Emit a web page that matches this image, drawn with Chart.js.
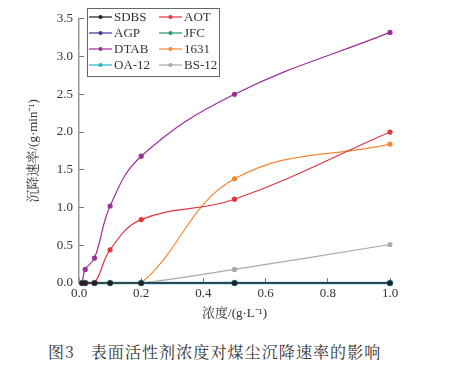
<!DOCTYPE html>
<html>
<head>
<meta charset="utf-8">
<script src="https://cdn.jsdelivr.net/npm/chart.js@4.4.0/dist/chart.umd.min.js"></script>
<style>
  html, body { margin: 0; padding: 0; background: #fff; }
  #wrap { position: relative; width: 465px; height: 373px; }
  #chartBox { position: absolute; left: 0; top: 0; width: 465px; height: 330px; }
  #caption {
    position: absolute; left: 48px; top: 340px;
    font-family: 'Noto Serif CJK SC', 'Noto Sans CJK SC', serif;
    font-size: 16px; color: #333; letter-spacing: 1.1px; white-space: nowrap;
  }
</style>
</head>
<body>
<div id="wrap">
  <div id="chartBox"><canvas id="chart"></canvas></div>
  <div id="caption">图3&nbsp;&nbsp;&nbsp;表面活性剂浓度对煤尘沉降速率的影响</div>
</div>
<script>
const concentration = [0.01, 0.02, 0.05, 0.1, 0.2, 0.5, 1.0];
const seriesNames = ['SDBS', 'AOT', 'AGP', 'JFC', 'DTAB', '1631', 'OA-12', 'BS-12'];
const seriesColors = ['#222222', '#e0353f', '#3b3a8e', '#23986a', '#9b2e98', '#f0883a', '#22b6c8', '#aaaaaa'];
const sdbs = [0, 0, 0, 0, 0, 0, 0];
const aot = [0, 0, 0, 0.44, 0.84, 1.11, 2.0];
const agp = [0, 0, 0, 0, 0, 0, 0];
const jfc = [0, 0, 0, 0, 0, 0, 0];
const dtab = [0, 0.18, 0.33, 1.02, 1.68, 2.5, 3.32];
const c1631 = [0, 0, 0, 0, 0, 1.38, 1.84];
const oa12 = [0, 0, 0, 0, 0, 0, 0];
const bs12 = [0, 0, 0, 0, 0, 0.18, 0.51];
const xTicks = [0, 0.2, 0.4, 0.6, 0.8, 1.0];
const yTicks = [0, 0.5, 1.0, 1.5, 2.0, 2.5, 3.0, 3.5];

const allValues = [sdbs, aot, agp, jfc, dtab, c1631, oa12, bs12];
const serif = "'Liberation Serif', 'Noto Serif CJK SC', 'Noto Sans CJK SC', serif";

const datasets = seriesNames.map((name, i) => ({
  label: name,
  data: concentration.map((x, j) => ({ x: x, y: allValues[i][j] })),
  borderColor: seriesColors[i],
  backgroundColor: seriesColors[i],
  borderWidth: name === 'OA-12' ? 2.6 : 1.2,
  order: name === 'OA-12' ? 1 : 0,
  pointRadius: 2,
  pointHoverRadius: 2,
  tension: 0.4,
  clip: false
}));

// legend box drawn inside the plot, two columns
const boxLegend = {
  id: 'boxLegend',
  afterDraw(chart) {
    const ctx = chart.ctx;
    const left = 87, top = 8, w = 132, h = 68;
    ctx.save();
    ctx.fillStyle = '#fff';
    ctx.fillRect(left, top, w, h);
    ctx.strokeStyle = '#666';
    ctx.lineWidth = 1;
    ctx.strokeRect(left + 0.5, top + 0.5, w, h);
    ctx.font = '13px ' + serif;
    ctx.textBaseline = 'middle';
    chart.data.datasets.forEach((ds, i) => {
      const col = i % 2, row = Math.floor(i / 2);
      const x = left + 2 + col * 70;
      const y = top + 9 + row * 16;
      ctx.strokeStyle = ds.borderColor;
      ctx.lineWidth = 1.2;
      ctx.beginPath();
      ctx.moveTo(x, y);
      ctx.lineTo(x + 23, y);
      ctx.stroke();
      ctx.fillStyle = ds.borderColor;
      ctx.beginPath();
      ctx.arc(x + 11.5, y, 2, 0, Math.PI * 2);
      ctx.fill();
      ctx.fillStyle = '#333';
      ctx.fillText(ds.label, x + 25, y + 1);
    });
    ctx.restore();
  }
};

new Chart(document.getElementById('chart'), {
  type: 'line',
  data: { datasets: datasets },
  plugins: [boxLegend],
  options: {
    responsive: true,
    maintainAspectRatio: false,
    animation: false,
    layout: { padding: { left: 0, right: 75, top: 17, bottom: 0 } },
    plugins: { legend: { display: false }, tooltip: { enabled: false } },
    scales: {
      x: {
        type: 'linear',
        min: 0,
        max: 1.0,
        afterFit(scale) { scale.height = 47; },
        afterBuildTicks(scale) { scale.ticks = xTicks.map(v => ({ value: v })); },
        ticks: {
          color: '#333',
          padding: 8,
          maxRotation: 0,
          font: { family: serif, size: 13 },
          callback: v => v.toFixed(1)
        },
        grid: { drawOnChartArea: false, tickLength: -5, color: '#777', lineWidth: 1 },
        border: { color: '#999', width: 1.5 },
        title: {
          display: true,
          text: '浓度/(g·L⁻¹)',
          color: '#333',
          font: { family: serif, size: 13 },
          padding: { top: 0, bottom: 9 }
        }
      },
      y: {
        min: 0,
        max: 3.5,
        afterFit(scale) { scale.width = 79; },
        afterBuildTicks(scale) { scale.ticks = yTicks.map(v => ({ value: v })); },
        ticks: {
          color: '#333',
          padding: 11,
          font: { family: serif, size: 13 },
          callback: v => v.toFixed(1)
        },
        grid: { drawOnChartArea: false, tickLength: -5, color: '#777', lineWidth: 1 },
        border: { color: '#999', width: 1.5 },
        title: {
          display: true,
          text: '沉降速率/(g·min⁻¹)',
          color: '#333',
          font: { family: serif, size: 13 },
          padding: { top: 26, bottom: 0 }
        }
      }
    }
  }
});
</script>
</body>
</html>
